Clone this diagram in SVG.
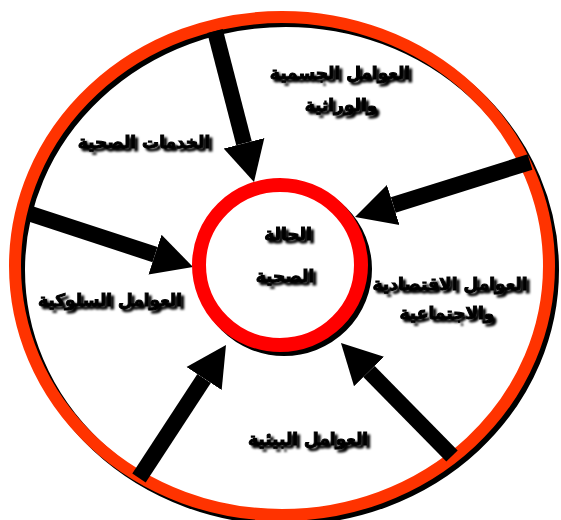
<svg xmlns="http://www.w3.org/2000/svg" width="561" height="520" viewBox="0 0 561 520">
<defs>
<style>
.lbl{font-family:"DejaVu Sans",sans-serif;font-weight:bold;font-size:17px;fill:#000;stroke:#000;stroke-width:1;text-anchor:middle;filter:url(#ts)}
.shaft{stroke:#000;stroke-width:16;fill:none;marker-end:url(#head)}
</style>
<filter id="ts" x="-20%" y="-40%" width="140%" height="180%">
<feGaussianBlur in="SourceAlpha" stdDeviation="1.3"/>
<feOffset dx="2.5" dy="2.5" result="b"/>
<feMerge><feMergeNode in="b"/><feMergeNode in="SourceGraphic"/></feMerge>
</filter>
<marker id="head" markerUnits="userSpaceOnUse" viewBox="0 -22 42 44" markerWidth="42" markerHeight="44" refX="0" refY="0" orient="auto">
<path d="M0,-21 L40,0 L0,21 Z" fill="#000"/>
</marker>
</defs>
<rect width="561" height="520" fill="#fff"/>
<g id="outer-ring">
<ellipse cx="286" cy="270" rx="267" ry="249" fill="none" stroke="#000" stroke-width="12"/>
<ellipse cx="282" cy="266" rx="267" ry="249" fill="none" stroke="#FF3300" stroke-width="12"/>
</g>
<g id="connectors">
<line class="shaft" x1="215" y1="31" x2="244" y2="143.3"/>
<line class="shaft" x1="530" y1="162" x2="393.2" y2="205"/>
<line class="shaft" x1="31" y1="214" x2="155" y2="254.6"/>
<line class="shaft" x1="139" y1="478" x2="204.1" y2="378.5"/>
<line class="shaft" x1="452" y1="456" x2="369" y2="371.5"/>
</g>
<g id="center">
<ellipse cx="284" cy="269" rx="81" ry="80" fill="none" stroke="#000" stroke-width="14"/>
<ellipse cx="280" cy="265" rx="81" ry="80" fill="#fff" stroke="#FF0000" stroke-width="14"/>
<text class="lbl" x="288" y="240">الحالة</text>
<text class="lbl" x="285" y="282">الصحية</text>
</g>
<g id="physical">
<text class="lbl" x="340" y="79">العوامل الجسمية</text>
<text class="lbl" x="341" y="111">والوراثية</text>
</g>
<g id="health-services">
<text class="lbl" x="144" y="148">الخدمات الصحية</text>
</g>
<g id="economic">
<text class="lbl" x="450" y="290">العوامل الاقتصادية</text>
<text class="lbl" x="447" y="319">والاجتماعية</text>
</g>
<g id="behavioral">
<text class="lbl" x="110" y="306">العوامل السلوكية</text>
</g>
<g id="environmental">
<text class="lbl" x="308" y="445">العوامل البيئية</text>
</g>
</svg>
